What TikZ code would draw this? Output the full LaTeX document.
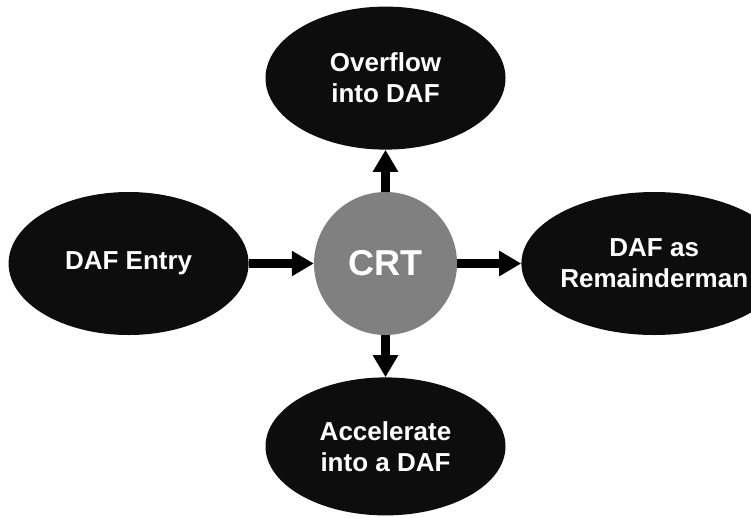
\documentclass[tikz,border=0pt]{standalone}
\usepackage{fontspec}
\setmainfont{Liberation Sans}
\usetikzlibrary{positioning,shapes.geometric,arrows.meta}
\definecolor{ovalblack}{HTML}{0D0D0D}
\definecolor{crtgray}{HTML}{808080}

\begin{document}
\begin{tikzpicture}[x=1pt, y=1pt, node distance={42pt and 65pt},
	main/.style = {ellipse, fill=ovalblack, text=white, minimum width=240pt, minimum height=143pt, inner sep=0pt, align=center, font=\bfseries\fontsize{26}{31}\selectfont},
	hub/.style = {circle, fill=crtgray, text=white, minimum size=143pt, inner sep=0pt, font=\bfseries\fontsize{36}{40}\selectfont},
	arr/.style = {line width=9pt, -{Triangle[width=24pt,length=22pt]}}]
	\useasboundingbox (0,0) rectangle (751,-517);
	\node[hub] (crt) at (385.5,-263.5) {CRT};
	\node[main] [above=of crt] (overflow) {Overflow\\into DAF};
	\node[main] [below=of crt, minimum height=138pt] (accel) {Accelerate\\into a DAF};
	\node[main] [left=of crt] (entry) {DAF Entry};
	\node[main] [right=64pt of crt, minimum width=232pt] (remain) {DAF as\\Remainderman};
	\draw[arr] (entry) -- (crt);
	\draw[arr] (crt) -- (overflow);
	\draw[arr] (crt) -- (accel);
	\draw[arr] (crt) -- (remain);
\end{tikzpicture}
\end{document}
